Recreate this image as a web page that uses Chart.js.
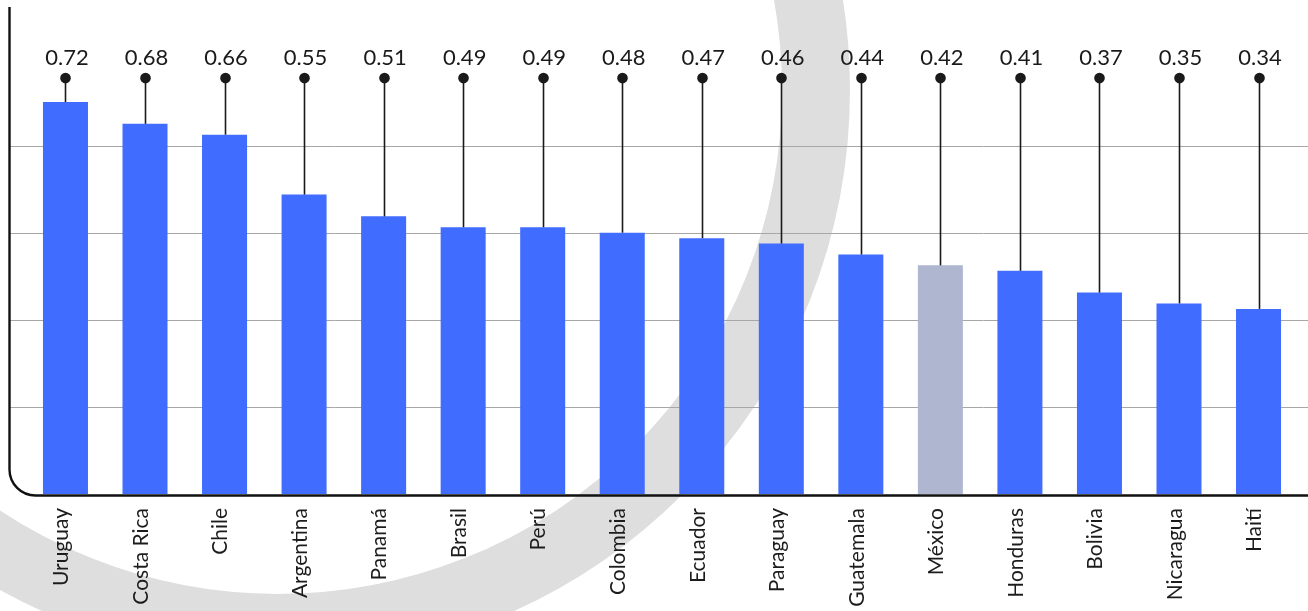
<!DOCTYPE html>
<html lang="es">
<head>
  <meta charset="UTF-8" />
  <title>Índice por país</title>
  <script src="https://cdn.jsdelivr.net/npm/chart.js"></script>
  <style>
    * { box-sizing: border-box; margin: 0; padding: 0; }
    body { background: #fff; width: 1308px; height: 611px; overflow: hidden; }
    #wrap { position: relative; width: 1308px; height: 611px; }
  </style>
</head>
<body>
  <div id="wrap"><canvas id="chart"></canvas></div>

  <script>
    const countries = ["Uruguay", "Costa Rica", "Chile", "Argentina", "Panamá", "Brasil", "Perú", "Colombia",
                       "Ecuador", "Paraguay", "Guatemala", "México", "Honduras", "Bolivia", "Nicaragua", "Haití"];
    const scores = [0.72, 0.68, 0.66, 0.55, 0.51, 0.49, 0.49, 0.48, 0.47, 0.46, 0.44, 0.42, 0.41, 0.37, 0.35, 0.34];
    const highlight = "México";

    const yMax = 0.8;
    const yStep = 0.16;
    const stemTop = 0.764;   // where the lollipop dots sit
    const labelAt = 0.788;   // baseline of the value labels

    const blue = "#406cff";
    const grey = "#aeb6d0";

    // ring in the background, grid lines, axis frame and lollipop labels
    const decor = {
      id: "decor",
      beforeDraw(chart) {
        const { ctx, scales: { y } } = chart;
        ctx.save();
        ctx.strokeStyle = "#dedede";
        ctx.lineWidth = 68;
        ctx.beginPath();
        ctx.arc(278, 90, 538, 0, Math.PI * 2);
        ctx.stroke();

        ctx.strokeStyle = "#aaa6a3";
        ctx.lineWidth = 1;
        for (let v = yStep; v < yMax - 1e-6; v += yStep) {
          const py = Math.round(y.getPixelForValue(v)) + 0.5;
          ctx.beginPath();
          ctx.moveTo(10, py);
          ctx.lineTo(chart.width, py);
          ctx.stroke();
        }
        ctx.restore();
      },
      afterDatasetsDraw(chart) {
        const { ctx, scales: { y } } = chart;
        const base = y.getPixelForValue(0) + 1.5;
        ctx.save();

        ctx.strokeStyle = "#111";
        ctx.lineWidth = 2.4;
        ctx.beginPath();
        ctx.moveTo(9.5, 7);
        ctx.lineTo(9.5, base - 26);
        ctx.arcTo(9.5, base, 36, base, 26);
        ctx.lineTo(chart.width, base);
        ctx.stroke();

        const topY = y.getPixelForValue(stemTop);
        const textY = y.getPixelForValue(labelAt);
        ctx.fillStyle = "#1a1a1a";
        ctx.strokeStyle = "#1a1a1a";
        ctx.lineWidth = 1.6;
        ctx.font = "22px Lato";
        ctx.textAlign = "center";
        ctx.textBaseline = "alphabetic";
        chart.getDatasetMeta(0).data.forEach((bar, i) => {
          const x = Math.round(bar.x) + 0.5;
          ctx.beginPath();
          ctx.moveTo(x, bar.y);
          ctx.lineTo(x, topY);
          ctx.stroke();
          ctx.beginPath();
          ctx.arc(x, topY, 5.3, 0, Math.PI * 2);
          ctx.fill();
          ctx.fillText(scores[i].toFixed(2), bar.x + 1.5, textY);
        });
        ctx.restore();
      }
    };

    new Chart(document.getElementById("chart"), {
      type: "bar",
      data: {
        labels: countries,
        datasets: [{
          data: scores,
          backgroundColor: countries.map(c => c === highlight ? grey : blue),
          barPercentage: 0.566,
          categoryPercentage: 1
        }]
      },
      options: {
        responsive: true,
        maintainAspectRatio: false,
        animation: false,
        layout: { padding: { top: 58.5, left: 25.7, right: 9.7, bottom: 0 } },
        plugins: { legend: { display: false }, tooltip: { enabled: false } },
        scales: {
          x: {
            grid: { display: false, drawTicks: false },
            border: { display: false },
            ticks: {
              color: "#1c1c1c",
              font: { family: "Lato", size: 21 },
              minRotation: 90,
              maxRotation: 90,
              padding: 14,
              labelOffset: -4,
              autoSkip: false
            },
            afterFit(scale) { scale.height = 117; }
          },
          y: { display: false, min: 0, max: yMax }
        }
      },
      plugins: [decor]
    });
  </script>
</body>
</html>
